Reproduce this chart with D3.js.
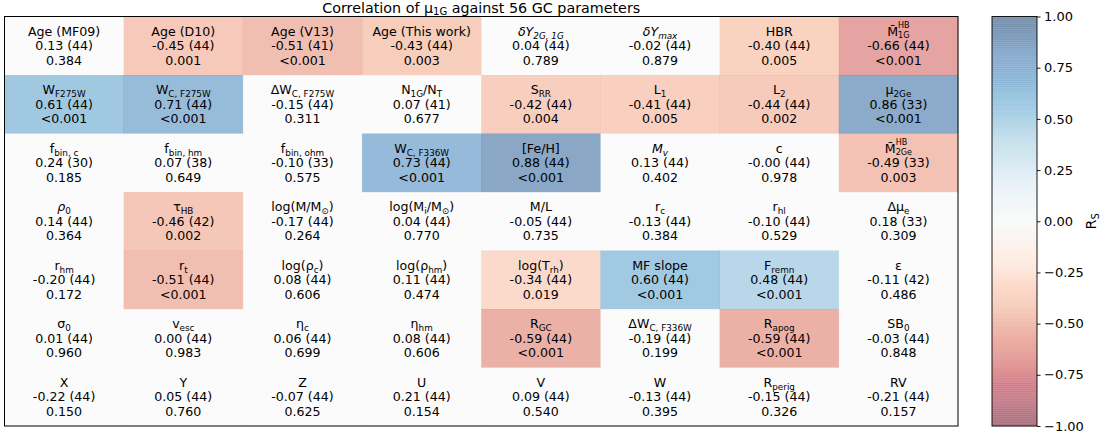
<!DOCTYPE html>
<html>
<head>
<meta charset="utf-8">
<script src="https://cdn.jsdelivr.net/npm/d3@7/dist/d3.min.js"></script>
<style>
  html, body { margin: 0; padding: 0; background: #ffffff; }
  svg { display: block; }
  text { font-family: "DejaVu Sans", sans-serif; fill: #000; white-space: pre; }
</style>
</head>
<body>
<svg id="chart" width="1110" height="436"></svg>
<script>
// ---------------- DATA ----------------
const titleText = "Correlation of μ_{1G} against 56 GC parameters";
const colorbarLabel = "R_S";
const nRows = 7, nCols = 8;

// Parameter labels (row-major). Markup: _{sub}, ^{sup}, *italic*
const paramLabels = [
  "Age (MF09)", "Age (D10)", "Age (V13)", "Age (This work)", "*δY_{2G, 1G}*", "*δY_{max}*", "HBR", "M\u0304^{HB}_{1G}",
  "W_{F275W}", "W_{C, F275W}", "ΔW_{C, F275W}", "N_{1G}/N_T", "S_{RR}", "L_1", "L_2", "μ_{2Ge}",
  "f_{bin, c}", "f_{bin, hm}", "f_{bin, ohm}", "W_{C, F336W}", "[Fe/H]", "*M_v*", "c", "M\u0304^{HB}_{2Ge}",
  "*ρ*_0", "τ_{HB}", "log(M/M_⊙)", "log(M_i/M_⊙)", "M/L", "r_c", "r_{hl}", "Δμ_e",
  "r_{hm}", "r_t", "log(ρ_c)", "log(ρ_{hm})", "log(T_{rh})", "MF slope", "F_{remn}", "ε",
  "σ_0", "v_{esc}", "η_c", "η_{hm}", "R_{GC}", "ΔW_{C, F336W}", "R_{apog}", "SB_0",
  "X", "Y", "Z", "U", "V", "W", "R_{perig}", "RV"
];

// Spearman coefficients (as printed)
const rsValues = [
  "0.13", "-0.45", "-0.51", "-0.43", "0.04", "-0.02", "-0.40", "-0.66",
  "0.61", "0.71", "-0.15", "0.07", "-0.42", "-0.41", "-0.44", "0.86",
  "0.24", "0.07", "-0.10", "0.73", "0.88", "0.13", "-0.00", "-0.49",
  "0.14", "-0.46", "-0.17", "0.04", "-0.05", "-0.13", "-0.10", "0.18",
  "-0.20", "-0.51", "0.08", "0.11", "-0.34", "0.60", "0.48", "-0.11",
  "0.01", "0.00", "0.06", "0.08", "-0.59", "-0.19", "-0.59", "-0.03",
  "-0.22", "0.05", "-0.07", "0.21", "0.09", "-0.13", "-0.15", "-0.21"
];

// Number of clusters
const nValues = [
  44, 44, 41, 44, 44, 44, 44, 44,
  44, 44, 44, 41, 44, 44, 44, 33,
  30, 38, 33, 44, 44, 44, 44, 33,
  44, 42, 44, 44, 44, 44, 44, 33,
  44, 44, 44, 44, 44, 44, 44, 42,
  44, 44, 44, 44, 44, 44, 44, 44,
  44, 44, 44, 44, 44, 44, 44, 44
];

// p-values (as printed)
const pValues = [
  "0.384", "0.001", "<0.001", "0.003", "0.789", "0.879", "0.005", "<0.001",
  "<0.001", "<0.001", "0.311", "0.677", "0.004", "0.005", "0.002", "<0.001",
  "0.185", "0.649", "0.575", "<0.001", "<0.001", "0.402", "0.978", "0.003",
  "0.364", "0.002", "0.264", "0.770", "0.735", "0.384", "0.529", "0.309",
  "0.172", "<0.001", "0.606", "0.474", "0.019", "<0.001", "<0.001", "0.486",
  "0.960", "0.983", "0.699", "0.606", "<0.001", "0.199", "<0.001", "0.848",
  "0.150", "0.760", "0.625", "0.154", "0.540", "0.395", "0.326", "0.157"
];

const colorbarTicks = [-1, -0.75, -0.5, -0.25, 0, 0.25, 0.5, 0.75, 1];
const rdbuStops = ["#67001f","#b2182b","#d6604d","#f4a582","#fddbc7","#f7f7f7","#d1e5f0","#92c5de","#4393c3","#2166ac","#053061"];

// ---------------- LAYOUT ----------------
const svg = d3.select("#chart");
const ax = { left: 4.5, right: 958, top: 16.5, bottom: 426 };
const cb = { left: 992, right: 1037, top: 16.5, bottom: 426 };
const cellFont = 12.6;
const alpha = 0.5;

const cmap = d3.scaleLinear()
  .domain(d3.range(11).map(i => -1 + i * 0.2))
  .range(rdbuStops)
  .interpolate(d3.interpolateRgb)
  .clamp(true);

const xBand = d3.scaleBand().domain(d3.range(nCols)).range([ax.left, ax.right]).padding(0);
const yBand = d3.scaleBand().domain(d3.range(nRows)).range([ax.top, ax.bottom]).padding(0);

// ---------- mini markup parser ----------
function parseLabel(str) {
  const out = []; let it = false; let i = 0; let buf = "";
  const flush = () => { if (buf) { out.push({ t: buf, mode: "base", it }); buf = ""; } };
  function readGroup() {
    if (str[i] === "{") {
      let depth = 1, j = i + 1;
      while (depth && j < str.length) { if (str[j] === "{") depth++; else if (str[j] === "}") depth--; j++; }
      const s = str.slice(i + 1, j - 1); i = j; return s;
    }
    const s = str[i]; i++; return s;
  }
  while (i < str.length) {
    const ch = str[i];
    if (ch === "*") { flush(); it = !it; i++; }
    else if (ch === "_" || ch === "^") { flush(); i++; const g = readGroup(); out.push({ t: g, mode: ch === "_" ? "sub" : "sup", it }); }
    else { buf += ch; i++; }
  }
  flush();
  return out;
}

// Draw a label with markup, centered at (cx, baseline y)
function drawRich(parent, str, cx, y, fs) {
  const g = parent.append("g");
  const pieces = parseLabel(str);
  let x = 0;
  for (let k = 0; k < pieces.length; k++) {
    const p = pieces[k];
    const small = p.mode !== "base";
    const next = pieces[k + 1];
    const stacked = p.mode === "sup" && next && next.mode === "sub";
    const size = small ? fs * (stacked ? 0.64 : 0.7) : fs;
    const dy = p.mode === "sub" ? fs * 0.2 : (p.mode === "sup" ? -fs * (stacked ? 0.62 : 0.38) : 0);
    const t = g.append("text")
      .attr("x", x).attr("y", dy)
      .attr("font-size", size)
      .attr("font-style", p.it ? "italic" : "normal")
      .text(p.t);
    let w = t.node().getComputedTextLength();
    if (stacked) {
      const t2 = g.append("text")
        .attr("x", x).attr("y", fs * 0.16)
        .attr("font-size", fs * 0.64)
        .attr("font-style", next.it ? "italic" : "normal")
        .text(next.t);
      w = Math.max(w, t2.node().getComputedTextLength());
      k++;
    }
    x += w;
  }
  g.attr("transform", `translate(${cx - x / 2},${y})`);
  return { g, width: x };
}

// ---------- cells ----------
const cells = d3.range(nRows * nCols).map(i => ({
  i, row: Math.floor(i / nCols), col: i % nCols,
  label: paramLabels[i], rs: rsValues[i], n: nValues[i], p: pValues[i]
}));
const pNum = s => s.startsWith("<") ? 0 : +s;

svg.append("g").selectAll("rect")
  .data(cells).join("rect")
  .attr("x", d => xBand(d.col))
  .attr("y", d => yBand(d.row))
  .attr("width", xBand.bandwidth() + 0.3)
  .attr("height", yBand.bandwidth() + 0.3)
  .attr("fill", d => cmap(pNum(d.p) < 0.05 ? +d.rs : 0))
  .attr("fill-opacity", alpha);

const lineGap = 14.3;
const textLayer = svg.append("g");
cells.forEach(d => {
  const cx = xBand(d.col) + xBand.bandwidth() / 2;
  const cy = yBand(d.row) + yBand.bandwidth() / 2;
  const base = cy + cellFont * 0.36;
  drawRich(textLayer, d.label, cx, base - lineGap, cellFont);
  textLayer.append("text").attr("x", cx).attr("y", base).attr("text-anchor", "middle")
    .attr("font-size", cellFont).text(`${d.rs} (${d.n})`);
  textLayer.append("text").attr("x", cx).attr("y", base + lineGap).attr("text-anchor", "middle")
    .attr("font-size", cellFont).text(d.p);
});

// axes frame
svg.append("rect")
  .attr("x", ax.left).attr("y", ax.top)
  .attr("width", ax.right - ax.left).attr("height", ax.bottom - ax.top)
  .attr("fill", "none").attr("stroke", "#000").attr("stroke-width", 1);

// title
drawRich(svg, titleText, (ax.left + ax.right) / 2, 12.5, 14.3);

// ---------- colorbar ----------
const cbScale = d3.scaleLinear().domain([-1, 1]).range([cb.bottom, cb.top]);
const nSteps = 200;
const stepVals = d3.range(nSteps).map(i => -1 + (i + 0.5) * 2 / nSteps);
svg.append("g").selectAll("rect")
  .data(stepVals).join("rect")
  .attr("x", cb.left)
  .attr("width", cb.right - cb.left)
  .attr("y", v => cbScale(v + 1 / nSteps))
  .attr("height", v => cbScale(v - 1 / nSteps) - cbScale(v + 1 / nSteps) + 0.25)
  .attr("fill", v => cmap(v))
  .attr("fill-opacity", alpha);
svg.append("rect")
  .attr("x", cb.left).attr("y", cb.top)
  .attr("width", cb.right - cb.left).attr("height", cb.bottom - cb.top)
  .attr("fill", "none").attr("stroke", "#000").attr("stroke-width", 0.9);

const cbAxis = d3.axisRight(cbScale)
  .tickValues(colorbarTicks)
  .tickFormat(d3.format(".2f"))
  .tickSizeInner(3.5).tickSizeOuter(0).tickPadding(3.5);
const cbG = svg.append("g").attr("transform", `translate(${cb.right},0)`).call(cbAxis);
cbG.select(".domain").remove();
cbG.selectAll(".tick line").attr("stroke", "#000").attr("stroke-width", 0.9);
cbG.selectAll(".tick text").attr("font-family", "DejaVu Sans").attr("font-size", 13).attr("fill", "#000");

// colorbar label (rotated)
const lblG = svg.append("g").attr("transform", `translate(1096,${(cb.top + cb.bottom) / 2}) rotate(-90)`);
drawRich(lblG, colorbarLabel, 0, 0, 14.3);
</script>
</body>
</html>
